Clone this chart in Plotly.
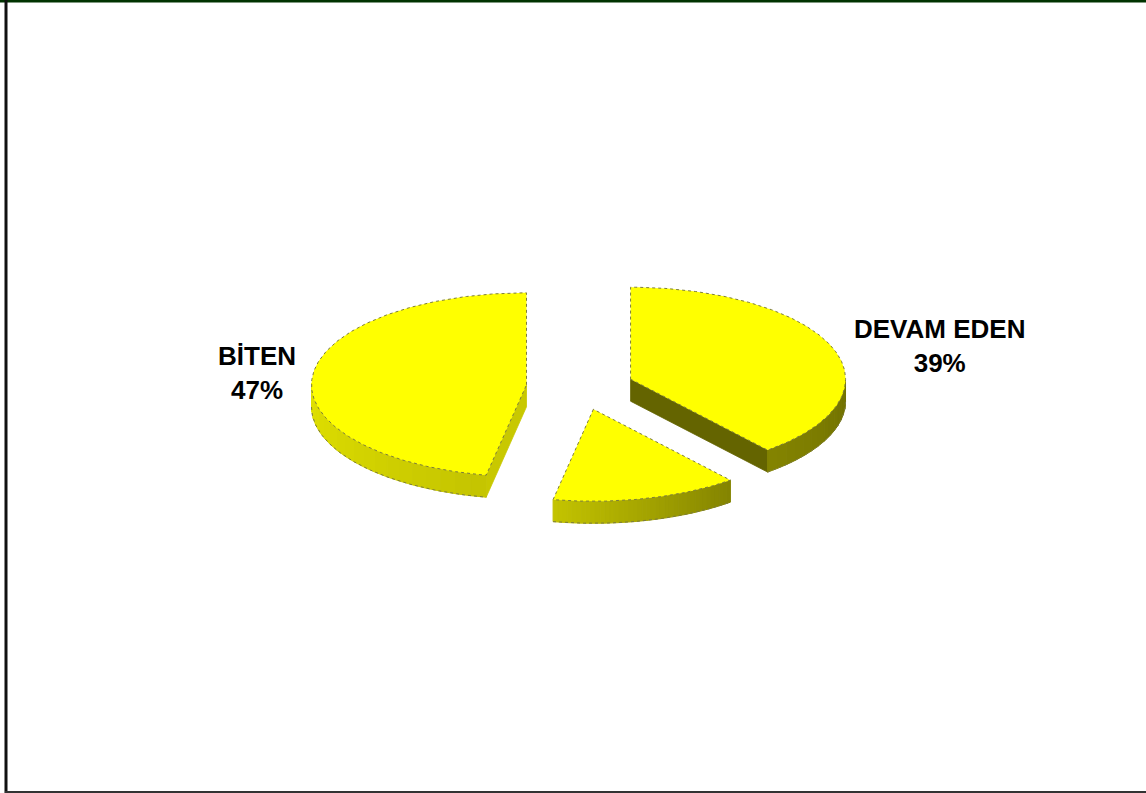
import numpy as np
import plotly.graph_objects as go

# ---------------- data ----------------
categories = ["DEVAM EDEN", "DİĞER", "BİTEN"]   # clockwise from 12 o'clock
percent = [39, 14, 47]
show_label = [True, False, True]

# ---------------- style / layout ----------------
W, H = 1146, 793
CX, CY = 580, 387          # pie centre (pixels)
RX, RY = 215, 92           # ellipse radii
DEPTH = 22                 # thickness of the 3D slab
EXPLODE = [0.25, 0.25, 0.25]
TOP_COLOR = "#FFFF00"
OUTLINE = "#7c7c3c"
CUT_COLORS = ["#646400", "#8a8a00", "#c8c800"]
# rim shading knots: angle (deg) -> grey level of the yellow/olive side
RIM_ANGLES = [180, 259, 309, 360]
RIM_LEVELS = [226, 196, 132, 112]
LABEL_POS = [(939, 346), None, (257, 373)]
FONT = "Liberation Sans, Arial, sans-serif"


def rgb(v):
    return "rgb(%d,%d,0)" % (int(round(v)), int(round(v)))


fig = go.Figure()

# compute slice geometry
slices = []
cum = 0.0
for cat, p, e in zip(categories, percent, EXPLODE):
    start = 90 - cum * 3.6
    end = start - p * 3.6
    cum += p
    t1, t2 = end, start             # ccw order t1 < t2
    mid = np.radians((t1 + t2) / 2)
    cx = CX + RX * e * np.cos(mid)
    cy = CY - RY * e * np.sin(mid)
    slices.append(dict(cat=cat, p=p, t1=t1, t2=t2, cx=cx, cy=cy))


def pt(s, t_deg, dz=0):
    t = np.radians(t_deg)
    return s["cx"] + RX * np.cos(t), s["cy"] - RY * np.sin(t) + dz


def poly(xs, ys, fill, line_color=None, line_width=0.8, dash="solid"):
    fig.add_trace(go.Scatter(
        x=list(xs) + [xs[0]], y=list(ys) + [ys[0]], mode="lines", fill="toself",
        fillcolor=fill,
        line=dict(color=line_color or fill, width=line_width, dash=dash),
        hoverinfo="skip", showlegend=False))


order = sorted(range(len(slices)), key=lambda i: slices[i]["cy"])
for i in order:
    s = slices[i]
    # visible radial cut faces
    for t, vis in ((s["t1"], np.cos(np.radians(s["t1"])) > 1e-6),
                   (s["t2"], np.cos(np.radians(s["t2"])) < -1e-6)):
        if vis:
            ex, ey = pt(s, t)
            xs = [s["cx"], ex, ex, s["cx"]]
            ys = [s["cy"], ey, ey + DEPTH, s["cy"] + DEPTH]
            poly(xs, ys, CUT_COLORS[i])
    # outer rim (visible where sin < 0)
    n = 40
    ts = np.linspace(s["t1"], s["t2"], n + 1)
    for a, b in zip(ts[:-1], ts[1:]):
        m = (a + b) / 2
        if np.sin(np.radians(m)) >= 0:
            continue
        lvl = np.interp(m % 360, RIM_ANGLES, RIM_LEVELS)
        x1, y1 = pt(s, a)
        x2, y2 = pt(s, b)
        poly([x1, x2, x2, x1], [y1, y2, y2 + DEPTH, y1 + DEPTH], rgb(lvl), line_width=1)
    # rim bottom outline
    vis_t = [t for t in np.linspace(s["t1"], s["t2"], 200) if np.sin(np.radians(t)) < 0]
    if vis_t:
        bx = [pt(s, t, DEPTH)[0] for t in vis_t]
        by = [pt(s, t, DEPTH)[1] for t in vis_t]
        fig.add_trace(go.Scatter(x=bx, y=by, mode="lines",
                                 line=dict(color=OUTLINE, width=1, dash="dot"),
                                 hoverinfo="skip", showlegend=False))
    # top face
    arc = np.linspace(s["t1"], s["t2"], 200)
    xs = [s["cx"]] + [pt(s, t)[0] for t in arc]
    ys = [s["cy"]] + [pt(s, t)[1] for t in arc]
    poly(xs, ys, TOP_COLOR, line_color=OUTLINE, line_width=1, dash="dot")

# labels
for cat, p, show, pos in zip(categories, percent, show_label, LABEL_POS):
    if show and pos:
        fig.add_annotation(x=pos[0], y=pos[1], xref="x", yref="y",
                           text="<b>%s<br>%d%%</b>" % (cat, p), showarrow=False,
                           xanchor="center", yanchor="middle",
                           font=dict(family=FONT, size=26, color="#000000"))

# chart frame
fig.add_shape(type="line", xref="paper", yref="paper", x0=0, x1=1, y0=1, y1=1,
              line=dict(color="#003300", width=5), layer="above")
fig.add_shape(type="line", xref="x", yref="y", x0=6, x1=6, y0=0, y1=H,
              line=dict(color="#111111", width=3), layer="above")
fig.add_shape(type="line", xref="x", yref="y", x0=5, x1=W, y0=792, y1=792,
              line=dict(color="#333333", width=2), layer="above")

fig.update_xaxes(range=[0, W], visible=False, fixedrange=True)
fig.update_yaxes(range=[H, 0], visible=False, fixedrange=True)
fig.update_layout(width=W, height=H, autosize=False,
                  margin=dict(l=0, r=0, t=0, b=0),
                  paper_bgcolor="white", plot_bgcolor="white",
                  showlegend=False)

fig.write_html("out.html", config={"displayModeBar": False},
               post_script="document.body.style.margin='0';document.body.style.overflow='hidden';")
